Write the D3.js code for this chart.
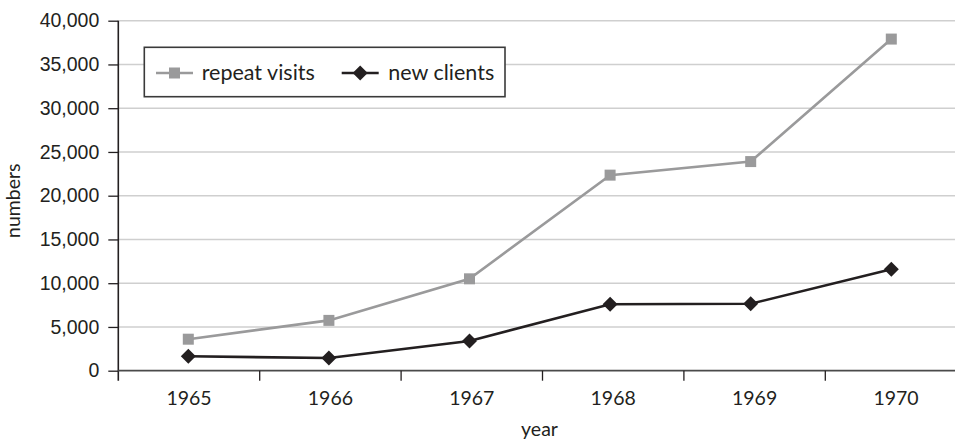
<!DOCTYPE html>
<html>
<head>
<meta charset="utf-8">
<script src="https://cdn.jsdelivr.net/npm/d3@7"></script>
<style>
  body { margin: 0; background: #fff; }
  svg { display: block; font-family: Lato, "Open Sans", sans-serif; }
</style>
</head>
<body>
<script>
var width = 955;
var height = 440;

// data
var years = ["1965", "1966", "1967", "1968", "1969", "1970"];
var repeatVisits = [3600, 5750, 10500, 22350, 23900, 37900];
var newClients = [1650, 1450, 3400, 7600, 7650, 11600];
var yTicks = [0, 5000, 10000, 15000, 20000, 25000, 30000, 35000, 40000];

var series = [
  {name: "repeat visits", values: repeatVisits, color: "#9a9a9b", marker: "square"},
  {name: "new clients", values: newClients, color: "#231f20", marker: "diamond"}
];

var svg = d3.select("body").append("svg")
    .attr("width", width)
    .attr("height", height);

// band scale for the category axis (plot runs past the right edge)
var x = d3.scaleBand()
    .domain(years)
    .range([118.3, 966.7]);

// markers sit a touch left of the band centres
var xp = d3.scalePoint()
    .domain(years)
    .range([188.3, 891.3]);

var y = d3.scaleLinear()
    .domain([0, 40000])
    .range([370.7, 20.7]);

// gridlines
svg.append("g")
  .selectAll("line")
  .data(yTicks.slice(1))
  .enter().append("line")
    .attr("x1", x.range()[0])
    .attr("x2", width)
    .attr("y1", function(d) { return y(d); })
    .attr("y2", function(d) { return y(d); })
    .style("stroke", "#cfcfcf")
    .style("stroke-width", 1.5);

// y axis
var yAxis = svg.append("g")
    .attr("transform", "translate(" + x.range()[0] + ",0)")
    .call(d3.axisLeft(y).tickValues(yTicks).tickSize(10).tickPadding(9)
      .tickFormat(d3.format(",")));
yAxis.select(".domain").remove();
yAxis.append("line")
    .attr("y1", y(40000))
    .attr("y2", y(0) + 10)
    .style("stroke", "#231f20")
    .style("stroke-width", 1.6);
yAxis.selectAll(".tick line").style("stroke", "#231f20").style("stroke-width", 1.3);
yAxis.selectAll(".tick text")
    .style("font-size", "19.5px")
    .style("fill", "#231f20");

// x axis: ticks on band boundaries, labels in the middle
var xAxis = svg.append("g")
    .attr("transform", "translate(0," + y(0) + ")");
xAxis.append("line")
    .attr("x1", x.range()[0])
    .attr("x2", width)
    .style("stroke", "#4a4a4a")
    .style("stroke-width", 1.8);
xAxis.selectAll(".xtick")
  .data(years.slice(1))
  .enter().append("line")
    .attr("class", "xtick")
    .attr("x1", function(d) { return x(d); })
    .attr("x2", function(d) { return x(d); })
    .attr("y1", 0)
    .attr("y2", 10)
    .style("stroke", "#231f20")
    .style("stroke-width", 1.3);
xAxis.selectAll(".xlabel")
  .data(years)
  .enter().append("text")
    .attr("class", "xlabel")
    .attr("x", function(d) { return x(d) + x.bandwidth() / 2; })
    .attr("y", 34.5)
    .style("text-anchor", "middle")
    .style("font-size", "19.5px")
    .style("fill", "#231f20")
    .text(function(d) { return d; });

// axis titles
svg.append("text")
    .attr("x", (x.range()[0] + x.range()[1]) / 2 - 3)
    .attr("y", 436)
    .style("text-anchor", "middle")
    .style("font-size", "19.5px")
    .style("fill", "#231f20")
    .text("year");

svg.append("text")
    .attr("transform", "translate(20," + ((y(0) + y(40000)) / 2 + 5) + ") rotate(-90)")
    .style("text-anchor", "middle")
    .style("font-size", "19.5px")
    .style("fill", "#231f20")
    .text("numbers");

var line = d3.line()
    .x(function(d, i) { return xp(years[i]); })
    .y(function(d) { return y(d); });

function drawMarker(sel, type, color) {
  if (type === "square") {
    sel.append("rect")
        .attr("x", -5.5).attr("y", -5.5)
        .attr("width", 11).attr("height", 11)
        .style("fill", color);
  } else {
    sel.append("path")
        .attr("d", "M0,-7.5L7.5,0L0,7.5L-7.5,0Z")
        .style("fill", color);
  }
}

series.forEach(function(s) {
  svg.append("path")
      .datum(s.values)
      .attr("d", line)
      .style("fill", "none")
      .style("stroke", s.color)
      .style("stroke-width", 2.6);

  svg.selectAll(".m-" + s.marker)
    .data(s.values)
    .enter().append("g")
      .attr("class", "m-" + s.marker)
      .attr("transform", function(d, i) { return "translate(" + xp(years[i]) + "," + y(d) + ")"; })
      .each(function() { drawMarker(d3.select(this), s.marker, s.color); });
});

// legend
var legend = svg.append("g");
legend.append("rect")
    .attr("x", 144.3)
    .attr("y", 47.3)
    .attr("width", 360.7)
    .attr("height", 49.4)
    .style("fill", "#fff")
    .style("stroke", "#3a3a3a")
    .style("stroke-width", 1.6);

var legendX = [156, 341.7];
var textX = [201.7, 388.3];
series.forEach(function(s, i) {
  var g = legend.append("g").attr("transform", "translate(" + legendX[i] + ",73)");
  g.append("line")
      .attr("x1", 0).attr("x2", 37)
      .style("stroke", s.color)
      .style("stroke-width", 2.6);
  var m = g.append("g").attr("transform", "translate(18.5,0)");
  drawMarker(m, s.marker, s.color);
  legend.append("text")
      .attr("x", textX[i])
      .attr("y", 80)
      .style("font-size", "21.5px")
      .style("fill", "#231f20")
      .text(s.name);
});
</script>
</body>
</html>
